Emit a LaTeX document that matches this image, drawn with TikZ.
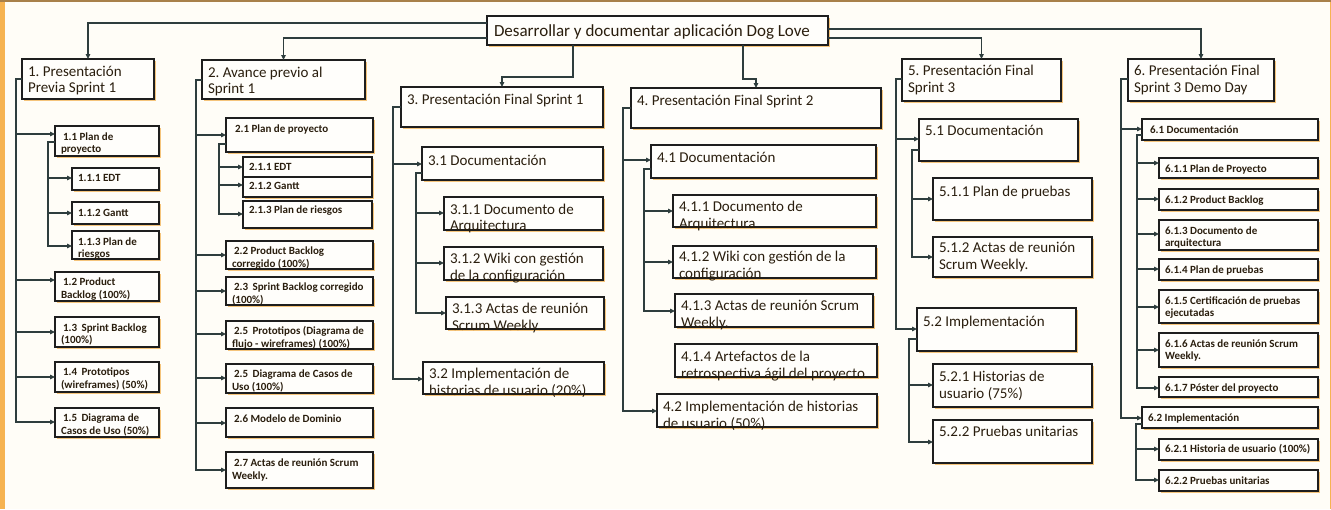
\documentclass[tikz,border=0pt]{standalone}
\usepackage{fontspec}
\setmainfont{Carlito}
\usetikzlibrary{arrows.meta,calc,shadows}

\definecolor{bgc}{HTML}{FFFDF7}
\definecolor{boxf}{HTML}{FFFEFB}
\definecolor{bord}{HTML}{1E1E1E}
\definecolor{shad}{HTML}{F4BE6E}
\definecolor{txt}{HTML}{2A1E0E}
\definecolor{wire}{HTML}{2E3D3D}
\definecolor{sidebar}{HTML}{F6B351}
\definecolor{topline}{HTML}{A8804A}

\tikzset{
  wbsbox/.style={draw=bord, fill=boxf, line width=1.1pt, inner sep=0pt,
    outer sep=0pt, anchor=north west, text=txt,
    drop shadow={shadow xshift=1.8pt, shadow yshift=-1.8pt, fill=shad, opacity=0.9}},
  rootf/.style={font=\fontsize{17}{19}\selectfont},
  hd/.style={font=\fontsize{15}{16.5}\selectfont},
  sm/.style={font=\fontsize{11}{12.5}\selectfont\bfseries},
  sx/.style={font=\fontsize{11}{11.8}\selectfont\bfseries},
  conn/.style={draw=wire, line width=1.1pt, -{Triangle[length=5pt,width=4.5pt]}},
}

% work-breakdown box: name, x1, y1, x2, y2, style, first baseline, text
\newcommand\wbs[8]{%
  \node[wbsbox,#6] (#1) at (#2,#3)
   {\parbox[t][\dimexpr#5pt-#3pt\relax][t]{\dimexpr#4pt-#2pt\relax}{%
      \frenchspacing
      \leftskip=6pt\rightskip=0pt plus 1fil\parfillskip=0pt plus 1fil
      \hbox{}\vspace{\dimexpr#7pt-\baselineskip\relax}\noindent #8}};}

% elbow connector: parent, offset on parent's left side, step to trunk, child, offset on child's left side
\newcommand\link[5]{%
  \draw[conn] ($(#1.north west)+(0,#2)$) -- ++(#3,0) |- ($(#4.north west)+(0,#5)$);}

\begin{document}
\begin{tikzpicture}[x=1pt,y=-1pt]
\useasboundingbox (0,0) rectangle (1331,509);
\fill[bgc] (0,0) rectangle (1331,509);
\fill[sidebar] (0,0) rectangle (5,509);
\fill[sidebar] (1329.5,0) rectangle (1331,509);
\fill[topline] (0,0) rectangle (1331,1.5);

% top level
\wbs{root}{487}{16}{828}{45}{rootf}{20.5}{\hspace*{1pt}Desarrollar y documentar aplicación Dog Love}

\wbs{b1}{22}{59}{154}{99}{hd}{17}{1. Presentación\\Previa Sprint 1}
\wbs{b2}{202}{60}{365}{99}{hd}{17}{2. Avance previo al\\Sprint 1}
\wbs{b3}{401}{87}{603}{127}{hd}{17.5}{3. Presentación Final Sprint 1}
\wbs{b4}{631}{88}{881}{128}{hd}{17.5}{4. Presentación Final Sprint 2}
\wbs{b5}{902}{59}{1061}{101}{hd}{16.5}{5. Presentación Final\\Sprint 3}
\wbs{b6}{1128}{59}{1274}{101}{hd}{16.5}{6. Presentación Final\\Sprint 3 Demo Day}

% branch 1
\wbs{n11}{55}{126}{159}{156}{sm}{14}{\hspace*{2pt}1.1 Plan de\\proyecto}
\wbs{n111}{72}{168}{159}{190}{sm}{13.5}{1.1.1 EDT}
\wbs{n112}{72}{202}{159}{224}{sm}{14.5}{1.1.2 Gantt}
\wbs{n113}{72}{231}{159}{259}{sm}{14}{1.1.3 Plan de\\riesgos}
\wbs{n12}{55}{272}{159}{301}{sm}{13.5}{\hspace*{2pt}1.2 Product\\Backlog (100\%)}
\wbs{n13}{55}{317}{159}{347}{sm}{14}{\hspace*{2pt}1.3\hspace{2pt} Sprint Backlog\\(100\%)}
\wbs{n14}{55}{362}{159}{392}{sm}{13.5}{\hspace*{2pt}1.4\hspace{2pt} Prototipos\\(wireframes) (50\%)}
\wbs{n15}{55}{408}{159}{437}{sm}{13.5}{\hspace*{2pt}1.5\hspace{2pt} Diagrama de\\Casos de Uso (50\%)}

% branch 2
\wbs{n21}{226}{118}{373}{152}{sm}{14.5}{\hspace*{3pt}2.1 Plan de proyecto}
\wbs{n211}{243}{157}{372}{177}{sm}{13.5}{2.1.1 EDT}
\wbs{n212}{243}{177}{372}{197}{sm}{12.5}{2.1.2 Gantt}
\wbs{n213}{243}{201}{372}{228}{sm}{12.5}{2.1.3 Plan de riesgos}
\wbs{n22}{226}{241}{373}{269}{sm}{13.5}{\hspace*{2pt}2.2 Product Backlog\\corregido (100\%)}
\wbs{n23}{226}{277}{373}{305}{sm}{13.5}{\hspace*{2pt}2.3\hspace{2pt} Sprint Backlog corregido\\(100\%)}
\wbs{n25a}{226}{321}{373}{349}{sm}{13.5}{\hspace*{2pt}2.5\hspace{2pt} Prototipos (Diagrama de\\flujo - wireframes) (100\%)}
\wbs{n25b}{226}{364}{373}{393}{sm}{13.5}{\hspace*{2pt}2.5\hspace{2pt} Diagrama de Casos de\\Uso (100\%)}
\wbs{n26}{226}{408}{373}{437}{sm}{14.5}{\hspace*{2pt}2.6 Modelo de Dominio}
\wbs{n27}{226}{452}{373}{488}{sm}{14.5}{\hspace*{2pt}2.7 Actas de reunión Scrum\\Weekly.}

% branch 3
\wbs{n31}{422}{147}{603}{180}{hd}{18}{3.1 Documentación}
\wbs{n311}{444}{197}{603}{230}{hd}{17}{3.1.1 Documento de\\Arquitectura}
\wbs{n312}{444}{247}{603}{280}{hd}{16.5}{3.1.2 Wiki con gestión\\de la configuración}
\wbs{n313}{446}{297}{604}{329}{hd}{16.5}{3.1.3 Actas de reunión\\Scrum Weekly.}
\wbs{n32}{423}{362}{604}{394}{hd}{16.5}{3.2 Implementación de\\historias de usuario (20\%)}

% branch 4
\wbs{n41}{651}{145}{876}{178}{hd}{17.5}{4.1 Documentación}
\wbs{n411}{673}{195}{876}{227}{hd}{16.5}{4.1.1 Documento de\\Arquitectura}
\wbs{n412}{673}{246}{876}{278}{hd}{15.5}{4.1.2 Wiki con gestión de la\\configuración}
\wbs{n413}{675}{294}{873}{327}{hd}{16.5}{4.1.3 Actas de reunión Scrum\\Weekly.}
\wbs{n414}{675}{344}{877}{377}{hd}{17.5}{4.1.4 Artefactos de la\\retrospectiva ágil del proyecto}
\wbs{n42}{657}{394}{877}{427}{hd}{17.5}{4.2 Implementación de historias\\de usuario (50\%)}

% branch 5
\wbs{n51}{919}{119}{1078}{161}{hd}{16.5}{5.1 Documentación}
\wbs{n511}{933}{178}{1092}{220}{hd}{18.5}{5.1.1 Plan de pruebas}
\wbs{n512}{933}{237}{1092}{277}{hd}{15.5}{5.1.2 Actas de reunión\\Scrum Weekly.}
\wbs{n52}{917}{308}{1076}{351}{hd}{18.5}{5.2 Implementación}
\wbs{n521}{933}{364}{1092}{407}{hd}{17.5}{5.2.1 Historias de\\usuario (75\%)}
\wbs{n522}{933}{420}{1092}{463}{hd}{16.5}{5.2.2 Pruebas unitarias}

% branch 6
\wbs{n61}{1142}{119}{1318}{140}{sx}{14.5}{\hspace*{2pt}6.1 Documentación}
\wbs{n611}{1159}{158}{1318}{178}{sx}{14.5}{6.1.1 Plan de Proyecto}
\wbs{n612}{1159}{189}{1318}{210}{sx}{14.5}{6.1.2 Product Backlog}
\wbs{n613}{1159}{220}{1318}{250}{sx}{14.5}{6.1.3 Documento de\\arquitectura}
\wbs{n614}{1159}{259}{1318}{280}{sx}{14.5}{6.1.4 Plan de pruebas}
\wbs{n615}{1159}{290}{1318}{323}{sx}{14.5}{6.1.5 Certificación de pruebas\\ejecutadas}
\wbs{n616}{1159}{333}{1318}{367}{sx}{14.5}{6.1.6 Actas de reunión Scrum\\Weekly.}
\wbs{n617}{1159}{377}{1318}{397}{sx}{14.5}{6.1.7 Póster del proyecto}
\wbs{n62}{1142}{407}{1318}{428}{sx}{14.5}{6.2 Implementación}
\wbs{n621}{1159}{439}{1318}{460}{sx}{13.5}{6.2.1 Historia de usuario (100\%)}
\wbs{n622}{1159}{470}{1318}{491}{sx}{14.5}{6.2.2 Pruebas unitarias}

% connectors from the root
\draw[conn] ($(root.north west)+(0,7)$) -| (b1.north);
\draw[conn] ($(root.north west)+(0,22)$) -| (b2.north);
\draw[conn] ($(root.south west)+(86,0)$) -- ++(0,32) -| (b3.north);
\draw[conn] ($(root.south west)+(256,0)$) -- ++(0,34) -| (b4.north);
\draw[conn] ($(root.north east)+(0,22)$) -| (b5.north);
\draw[conn] ($(root.north east)+(0,13)$) -| (b6.north);

% branch 1 connectors
\link{b1}{20}{-6}{n11}{8}
\link{b1}{20}{-6}{n12}{8}
\link{b1}{20}{-6}{n13}{15}
\link{b1}{20}{-6}{n14}{15}
\link{b1}{20}{-6}{n15}{14}
\link{n11}{16}{-7}{n111}{10}
\link{n11}{16}{-7}{n112}{11}
\link{n11}{16}{-7}{n113}{15}

% branch 2 connectors
\link{b2}{20}{-6}{n21}{17}
\link{b2}{20}{-6}{n22}{14}
\link{b2}{20}{-6}{n23}{14}
\link{b2}{20}{-6}{n25a}{13}
\link{b2}{20}{-6}{n25b}{14}
\link{b2}{20}{-6}{n26}{15}
\link{b2}{20}{-6}{n27}{18}
\link{n21}{26}{-7}{n211}{10}
\link{n21}{26}{-7}{n212}{8}
\link{n21}{26}{-7}{n213}{13}

% branch 3 connectors
\link{b3}{20}{-8}{n31}{17}
\link{b3}{20}{-8}{n32}{17}
\link{n31}{26}{-6}{n311}{16}
\link{n31}{26}{-6}{n312}{16}
\link{n31}{26}{-6}{n313}{16}

% branch 4 connectors
\link{b4}{20}{-8}{n41}{15}
\link{b4}{20}{-8}{n42}{17}
\link{n41}{24}{-7}{n411}{16}
\link{n41}{24}{-7}{n412}{16}
\link{n41}{24}{-7}{n413}{17}

% branch 5 connectors
\link{b5}{20}{-6}{n51}{20}
\link{b5}{20}{-6}{n52}{21}
\link{n51}{31}{-7}{n511}{21}
\link{n51}{31}{-7}{n512}{20}
\link{n52}{31}{-8}{n521}{21}
\link{n52}{31}{-8}{n522}{22}

% branch 6 connectors
\link{b6}{20}{-7}{n61}{10}
\link{b6}{20}{-7}{n62}{11}
\link{n61}{16}{-5}{n611}{5}
\link{n61}{16}{-5}{n612}{10}
\link{n61}{16}{-5}{n613}{14}
\link{n61}{16}{-5}{n614}{10}
\link{n61}{16}{-5}{n615}{17}
\link{n61}{16}{-5}{n616}{17}
\link{n61}{16}{-5}{n617}{11}
\link{n62}{17}{-6}{n621}{10}
\link{n62}{17}{-6}{n622}{10}
\end{tikzpicture}
\end{document}
